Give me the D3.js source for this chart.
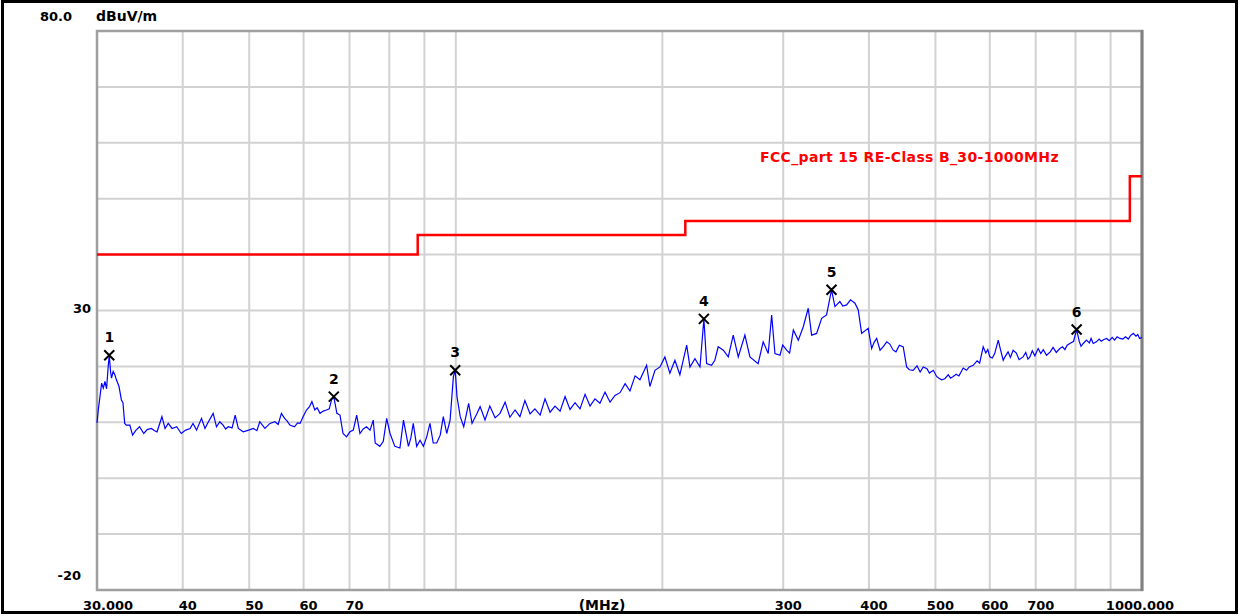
<!DOCTYPE html>
<html>
<head>
<meta charset="utf-8">
<script src="https://cdn.jsdelivr.net/npm/d3@7"></script>
<style>
  body { margin: 0; background: #fff; }
  text { font-family: "DejaVu Sans", sans-serif; font-weight: bold; }
</style>
</head>
<body>
<svg id="chart" width="1240" height="616"></svg>
<script>
// x grid and tick labels (MHz, log axis)
const xGrid = [40, 50, 60, 70, 80, 90, 100, 200, 300, 400, 500, 600, 700, 800, 900];
const xTicks = [30, 40, 50, 60, 70, 300, 400, 500, 600, 700, 1000];
const xTickText = ["30.000", "40", "50", "60", "70", "300", "400", "500", "600", "700", "1000.000"];
// y grid and tick labels (dBuV/m)
const yGrid = [-10, 0, 10, 20, 30, 40, 50, 60, 70];
const yTicks = [80, 30, -20];
const yTickText = ["80.0", "30", "-20"];

// FCC part 15 class B limit, step after each point
const limitMHz = [30, 88, 216, 960, 1000];
const limitDb = [40, 43.5, 46, 54, 54];
const limitName = "FCC_part 15 RE-Class B_30-1000MHz";

// measured trace [MHz, dBuV/m]
const trace = [
  [30,9.9],[30.13,12.2],[30.3,14.6],[30.47,17.0],[30.64,16.1],[30.81,17.3],[30.98,16.0],[31.15,20.0],[31.26,22.0],[31.4,19.0],
  [31.5,17.9],[31.67,19.1],[31.85,18.5],[32.02,17.6],[32.3,16.4],[32.56,14.0],[32.73,13.5],[32.92,9.8],[33.1,9.5],
  [33.5,9.5],[33.8,7.7],[34.2,8.6],[34.6,9.2],[35.1,8.0],[35.5,8.7],[36.0,8.9],[36.4,8.5],[36.7,8.3],[37.3,11.0],
  [37.7,8.9],[38.1,9.8],[38.6,8.9],[39.2,9.2],[39.8,8.0],[40.4,8.6],[41.0,8.9],[41.4,9.8],[41.9,8.6],[42.6,10.7],
  [43.1,8.9],[43.6,10.1],[44.3,11.6],[44.8,9.2],[45.3,10.1],[45.8,9.5],[46.2,8.8],[46.6,9.2],[47.2,9.0],[47.7,11.3],
  [48.2,8.9],[49.0,8.3],[49.9,8.6],[50.7,8.9],[51.3,8.5],[51.8,10.1],[52.7,8.9],[53.6,9.8],[54.5,10.1],[55.1,9.6],
  [55.7,11.6],[56.3,10.7],[56.8,10.2],[57.3,9.5],[58.2,9.2],[58.8,9.9],[59.3,9.8],[59.9,11.0],
  [60.6,12.2],[61.2,12.8],[61.7,13.7],[62.3,12.2],[62.8,12.6],[63.4,11.6],[64.1,12.0],[64.8,12.2],[65.4,12.4],[65.9,14.0],
  [66.4,14.6],[67.1,11.6],[67.8,11.3],[68.5,8.0],[69.3,7.4],[70.1,8.3],[70.9,8.6],[71.7,11.3],[72.5,8.0],[73.3,8.8],
  [74.1,9.2],[75.0,8.6],[75.8,10.4],[76.3,6.3],[77.5,5.7],[78.4,6.6],[79.3,10.7],[80.2,8.0],[81.5,5.7],[82.9,5.4],
  [83.9,10.4],[85.3,5.7],[86.0,7.2],[86.7,9.8],[87.7,5.7],[88.7,6.8],[89.7,5.7],[90.7,7.4],[91.7,9.8],[92.7,6.3],
  [93.8,6.3],[94.9,7.7],[95.9,11.0],[97.0,8.0],[98.1,10.4],[99.2,18.2],[99.8,19.3],[100.4,14.6],[101.5,11.0],[102.7,9.2],
  [104.4,13.4],[105.6,9.8],[107.4,11.6],[108.5,12.8],
  [110.3,10.4],[112.1,12.9],[114.1,10.8],[116.0,11.6],[118.0,13.6],[119.9,10.9],[122.0,12.2],[124.0,11.0],[126.1,13.9],
  [128.3,11.5],[130.4,12.4],[132.7,11.3],[134.9,14.2],[137.2,11.8],[139.5,12.9],[141.9,12.0],[144.3,14.6],[146.7,12.3],
  [149.2,13.5],[151.7,12.4],[154.3,15.0],[156.9,12.9],[159.5,14.2],[162.2,13.4],[165.0,15.4],[167.8,13.6],[170.6,14.8],
  [173.5,15.3],[176.5,16.9],[179.4,15.6],[182.5,18.3],
  [185.5,17.6],[189.7,20.2],[191.8,16.4],[195.1,19.3],[198.4,19.9],[201.7,21.7],[205.1,18.8],[208.6,21.1],[212.1,18.5],
  [217.0,23.8],[219.4,19.9],[223.1,21.4],[226.9,19.9],[229.9,28.5],[232.0,20.5],[235.9,20.2],[238.5,21.1],[241.2,23.5],
  [245.4,22.9],[249.5,21.7],[253.7,25.6],[258.0,21.7],[263.8,25.6],[268.3,21.7],[275.8,20.5],[280.5,24.4],[285.3,22.3],
  [288.6,29.2],[291.8,22.3],[296.8,22.0],[299.5,23.8],[303.5,22.9],[306.5,22.4],[310.4,26.5],[315.6,24.7],[320.9,27.1],
  [326.3,30.4],[330.0,25.6],[335.6,25.9],[341.3,28.6],[347.0,29.2],[352.8,33.7],[356.9,30.7],[362.8,31.6],[366.5,30.8],
  [371.2,31.0],[376,31.9],[381.7,31.3],[385.9,30.1],[390.3,25.9],[399.0,26.8],[403.7,23.2],[407,24.3],[410.5,25.0],
  [415.2,22.9],[420,23.6],[424.6,24.4],[429,24.0],[433.9,22.9],[438,22.6],[443,23.8],[448.8,23.5],
  [453.9,19.9],[458,19.4],[464.0,19.3],[470,20.1],[475,19.0],[480.0,19.9],[486,19.6],[490,18.8],[496.4,19.3],[502,18.2],
  [506,17.9],[510.7,17.6],[516,17.8],[522,18.5],[526,17.9],[530.7,18.2],[536,18.6],[541,18.3],[548.9,19.7],[555,19.3],
  [560,19.9],[567.6,20.2],[575,21.0],[580,20.6],[586.9,23.5],[592,22.4],[596,23.0],[600.0,21.7],[605,21.5],[610,22.3],
  [617.3,24.7],[622,23.0],[627.7,21.1],[632,21.8],[638,22.6],[643,21.6],[649.0,22.9],[656,22.4],[662,21.2],[671.0,21.7],
  [677,22.5],[682,21.3],[686.5,21.7],[692,22.8],[698,21.9],[705.8,23.2],[712,22.3],[718,23.0],[726.0,22.0],[735,22.6],
  [742,23.4],[750,22.5],[759.0,23.2],[766,23.5],[772,23.0],[778,23.8],[785.0,24.1],[795,24.5],[803.0,26.6],[810,24.5],
  [815,23.6],[821.0,24.1],[830,24.7],[838,24.2],[843,25.0],[849.0,24.1],[858,24.4],[866,24.9],[872,24.5],[880,24.8],
  [888.0,25.0],[896,24.6],[905,25.2],[912,24.7],[920,25.3],[928.6,25.0],[938,24.9],[946,25.3],[955,24.9],[962,25.5],
  [971.0,25.9],[980,25.4],[986,25.7],[992.0,25.0],[1000,25.2]
];

// peak markers
const markerMHz = [31.26, 66.4, 99.8, 229.9, 352.8, 803];
const markerDb = [22.0, 14.6, 19.3, 28.5, 33.7, 26.6];

const svg = d3.select("#chart");
const plotLeft = 97, plotRight = 1142, plotTop = 31, plotBottom = 590;

const x = d3.scaleLog().domain([30, 1000]).range([plotLeft, plotRight]);
const y = d3.scaleLinear().domain([-20, 80]).range([plotBottom, plotTop]);

svg.append("rect").attr("width", 1240).attr("height", 616).style("fill", "#fff");
// outer frame
svg.append("rect")
    .attr("x", 2.5).attr("y", 1.5).attr("width", 1234).attr("height", 611)
    .style("fill", "none").style("stroke", "#000").style("stroke-width", 3);

// grid
svg.selectAll(".vgrid").data(xGrid).enter().append("line")
    .attr("class", "vgrid")
    .attr("x1", d => x(d)).attr("x2", d => x(d))
    .attr("y1", plotTop).attr("y2", plotBottom)
    .style("stroke", "#d2d2d2").style("stroke-width", 2);
svg.selectAll(".hgrid").data(yGrid).enter().append("line")
    .attr("class", "hgrid")
    .attr("x1", plotLeft).attr("x2", plotRight)
    .attr("y1", d => y(d)).attr("y2", d => y(d))
    .style("stroke", "#d2d2d2").style("stroke-width", 2);

// plot frame
svg.append("rect")
    .attr("x", plotLeft).attr("y", plotTop)
    .attr("width", plotRight - plotLeft).attr("height", plotBottom - plotTop)
    .style("fill", "none").style("stroke", "#a0a0a0").style("stroke-width", 2.5);
svg.append("line")
    .attr("x1", plotRight).attr("x2", plotRight).attr("y1", plotTop - 1).attr("y2", plotBottom + 1)
    .style("stroke", "#808080").style("stroke-width", 3);

// limit line
const limitPts = limitMHz.map((f, i) => [f, limitDb[i]]);
svg.append("path")
    .datum(limitPts)
    .attr("d", d3.line().x(d => x(d[0])).y(d => y(d[1])).curve(d3.curveStepAfter))
    .style("fill", "none").style("stroke", "#ff0000").style("stroke-width", 2.5);
svg.append("text")
    .attr("x", 760).attr("y", 162)
    .style("font-size", "14px").style("letter-spacing", "0.35px").style("fill", "#ff0000")
    .text(limitName);

// trace
svg.append("path")
    .datum(trace)
    .attr("d", d3.line().x(d => x(d[0])).y(d => y(d[1])))
    .style("fill", "none").style("stroke", "#0000ff").style("stroke-width", 1.2);

// markers
const markers = markerMHz.map((f, i) => ({ f: f, v: markerDb[i], n: i + 1 }));
const mk = svg.selectAll(".marker").data(markers).enter().append("g")
    .attr("class", "marker")
    .attr("transform", d => `translate(${x(d.f)},${y(d.v)})`);
mk.append("path")
    .attr("d", "M-5,-5L5,5M-5,5L5,-5")
    .style("stroke", "#000").style("stroke-width", 2);
mk.append("text")
    .attr("y", -13).attr("text-anchor", "middle")
    .style("font-size", "14px").style("fill", "#000")
    .text(d => d.n);

// y labels
const yLabelX = { "80.0": 72, "30": 91, "-20": 81 };
const yLabelDy = { "80.0": -10, "30": 2, "-20": -10 };
svg.selectAll(".ylab").data(yTicks).enter().append("text")
    .attr("class", "ylab")
    .attr("x", (d, i) => yLabelX[yTickText[i]])
    .attr("y", (d, i) => y(d) + yLabelDy[yTickText[i]])
    .attr("text-anchor", "end")
    .style("font-size", "13px")
    .text((d, i) => yTickText[i]);
svg.append("text")
    .attr("x", 96).attr("y", 21)
    .style("font-size", "14px")
    .text("dBuV/m");

// x labels
svg.selectAll(".xlab").data(xTicks).enter().append("text")
    .attr("class", "xlab")
    .attr("x", d => d === 30 ? x(d) + 11 : d === 1000 ? x(d) - 2 : x(d) + 5)
    .attr("y", 610)
    .attr("text-anchor", "middle")
    .style("font-size", "13px")
    .text((d, i) => xTickText[i]);
svg.append("text")
    .attr("x", 602).attr("y", 610)
    .attr("text-anchor", "middle")
    .style("font-size", "14px")
    .text("(MHz)");
</script>
</body>
</html>
